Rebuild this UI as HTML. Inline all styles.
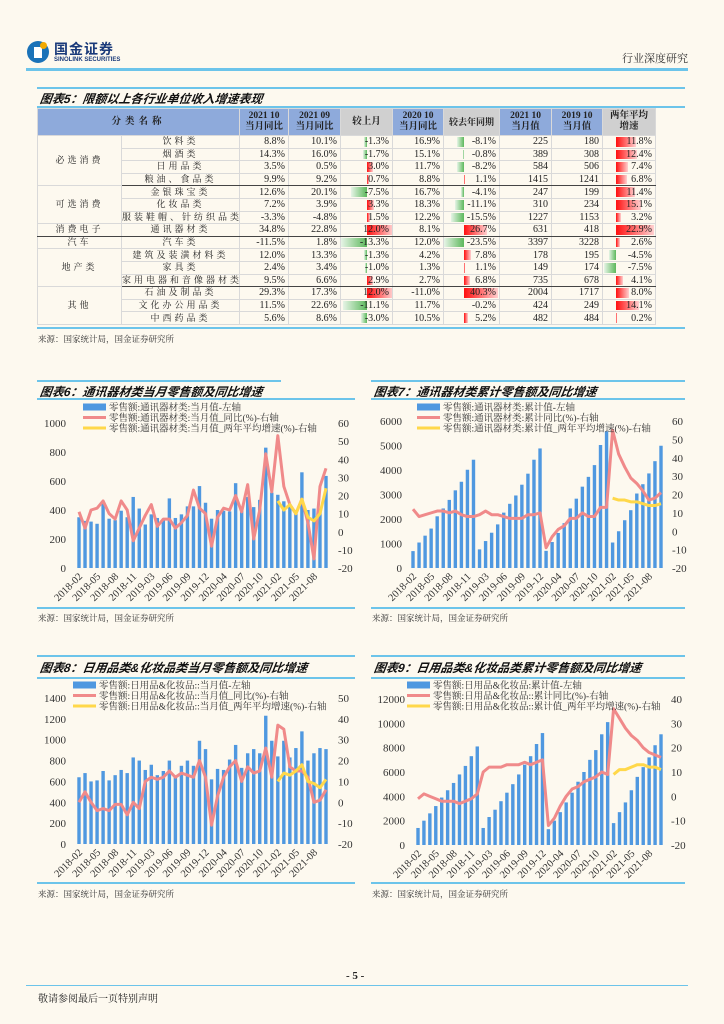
<!DOCTYPE html>
<html><head><meta charset="utf-8">
<style>
body{margin:0;background:#fdf9ef;}
#page{position:relative;width:724px;height:1024px;background:#fdf9ef;overflow:hidden;font-family:"Liberation Serif","Noto Serif CJK SC",serif;color:#222;}
.abs{position:absolute;}
.bl{position:absolute;height:3px;background:#6cc4ea;}
.ttl{position:absolute;font-family:"Liberation Sans","Noto Sans CJK SC",sans-serif;font-weight:bold;font-style:italic;font-size:12px;color:#111;transform:skewX(-8deg);}
.src{position:absolute;font-family:"Liberation Serif","Noto Serif CJK SC",serif;font-size:8.5px;color:#333;}
table{border-collapse:collapse;table-layout:fixed;}
tr{height:12.6px;}
tr.hd{height:27px;}
td,th{padding:0;font-size:10px;line-height:11px;border:1px solid #d9d9d9;position:relative;overflow:hidden;white-space:nowrap;box-sizing:border-box;}
td{height:12.6px;max-height:12.6px;}
th{height:27px;font-size:9.5px;line-height:11px;font-weight:bold;background:#8eaadb;}
th.g{background:#d0d0d0;}
td.n{text-align:right;padding-right:3px;}
td.c{text-align:center;font-size:9px;letter-spacing:3px;}
tr.sep td{border-bottom:1.5px solid #444;}
.bar{position:absolute;top:1px;bottom:1px;}
.txt{position:relative;z-index:2;}
</style></head>
<body>
<div id="page">
  <div class="abs" style="left:27px;top:41px;width:100px;height:26px;">
    <div style="position:absolute;left:0;top:0;width:22px;height:22px;border-radius:50%;background:#1a72b8;"></div>
    <div style="position:absolute;left:7px;top:6px;width:8px;height:11px;background:#fff;"></div>
    <div style="position:absolute;left:13px;top:1px;width:7px;height:7px;border-radius:50%;background:#f2a900;"></div>
    <div style="position:absolute;left:27px;top:-2px;font-family:'Noto Sans CJK SC',sans-serif;font-weight:bold;font-size:14px;color:#1a3a7a;letter-spacing:1px;">国金证券</div>
    <div style="position:absolute;left:27px;top:16px;font-family:'Liberation Sans',sans-serif;font-weight:bold;font-size:6px;color:#1a3a7a;">SINOLINK SECURITIES</div>
  </div>
  <div class="abs" style="left:622px;top:50px;font-size:11px;font-family:'Noto Serif CJK SC',serif;color:#333;">行业深度研究</div>
  <div class="bl" style="left:26px;top:68px;width:662px;"></div>

  <div class="bl" style="left:37px;top:87px;width:648px;height:2px;"></div>
  <div class="ttl" style="left:40px;top:90px;">图表5：限额以上各行业单位收入增速表现</div>
  <div class="bl" style="left:37px;top:106px;width:648px;height:2px;"></div>
  <div class="abs" id="tblwrap" style="left:37px;top:108px;"></div>
  <div class="bl" style="left:37px;top:327px;width:648px;height:2px;"></div>
  <div class="src" style="left:38px;top:333px;">来源：国家统计局，国金证券研究所</div>

  <div class="bl" style="left:37px;top:380px;width:244px;height:2px;"></div>
  <div class="ttl" style="left:40px;top:383px;">图表6：通讯器材类当月零售额及同比增速</div>
  <div class="bl" style="left:37px;top:398px;width:318px;height:2px;"></div>
  <div class="bl" style="left:371px;top:380px;width:314px;height:2px;"></div>
  <div class="ttl" style="left:374px;top:383px;">图表7：通讯器材类累计零售额及同比增速</div>
  <div class="bl" style="left:371px;top:398px;width:314px;height:2px;"></div>
  <div class="bl" style="left:37px;top:607px;width:318px;height:2px;"></div>
  <div class="bl" style="left:371px;top:607px;width:314px;height:2px;"></div>
  <div class="src" style="left:38px;top:612px;">来源：国家统计局，国金证券研究所</div>
  <div class="src" style="left:372px;top:612px;">来源：国家统计局，国金证券研究所</div>

  <div class="bl" style="left:37px;top:655px;width:318px;height:2px;"></div>
  <div class="ttl" style="left:40px;top:659px;">图表8：日用品类&amp;化妆品类当月零售额及同比增速</div>
  <div class="bl" style="left:37px;top:677px;width:318px;height:2px;"></div>
  <div class="bl" style="left:371px;top:655px;width:314px;height:2px;"></div>
  <div class="ttl" style="left:374px;top:659px;">图表9：日用品类&amp;化妆品类累计零售额及同比增速</div>
  <div class="bl" style="left:371px;top:677px;width:314px;height:2px;"></div>
  <div class="bl" style="left:37px;top:882px;width:318px;height:2px;"></div>
  <div class="bl" style="left:371px;top:882px;width:314px;height:2px;"></div>
  <div class="src" style="left:38px;top:888px;">来源：国家统计局，国金证券研究所</div>
  <div class="src" style="left:372px;top:888px;">来源：国家统计局，国金证券研究所</div>

  <div class="abs" style="left:346px;top:970px;font-size:11px;font-weight:bold;">- 5 -</div>
  <div class="abs" style="left:26px;top:985px;width:662px;height:1px;background:#6cc4ea;"></div>
  <div class="abs" style="left:38px;top:990px;font-size:10px;font-family:'Noto Serif CJK SC',serif;">敬请参阅最后一页特别声明</div>

  <svg id="charts" width="724" height="1024" style="position:absolute;left:0;top:0;"></svg>
</div>

<script>
const tGroups=[["必选消费",4],["可选消费",3],["消费电子",1],["汽车",1],["地产类",3],["其他",3]];
const tNames=["饮料类","烟酒类","日用品类","粮油、食品类","金银珠宝类","化妆品类","服装鞋帽、针纺织品类","通讯器材类","汽车类","建筑及装潢材料类","家具类","家用电器和音像器材类","石油及制品类","文化办公用品类","中西药品类"];
const tCur=[8.8,14.3,3.5,9.9,12.6,7.2,-3.3,34.8,-11.5,12.0,2.4,9.5,29.3,11.5,5.6];
const tPrev=[10.1,16.0,0.5,9.2,20.1,3.9,-4.8,22.8,1.8,13.3,3.4,6.6,17.3,22.6,8.6];
const tMom=[-1.3,-1.7,3.0,0.7,-7.5,3.3,1.5,12.0,-13.3,-1.3,-1.0,2.9,12.0,-11.1,-3.0];
const tLast=[16.9,15.1,11.7,8.8,16.7,18.3,12.2,8.1,12.0,4.2,1.3,2.7,-11.0,11.7,10.5];
const tYoyChg=[-8.1,-0.8,-8.2,1.1,-4.1,-11.1,-15.5,26.7,-23.5,7.8,1.1,6.8,40.3,-0.2,5.2];
const tVal21=[225,389,584,1415,247,310,1227,631,3397,178,149,735,2004,424,482];
const tVal19=[180,308,506,1241,199,234,1153,418,3228,195,174,678,1717,249,484];
const tTwo=[11.8,12.4,7.4,6.8,11.4,15.1,3.2,22.9,2.6,-4.5,-7.5,4.1,8.0,14.1,0.2];

const colW=[84,118,49,52,52,51,56,52,51,53];
function fmtP(v){return v.toFixed(1)+'%';}
function barCell(v,axis,scale,cw){
  let h='';
  if(v>=0){h='<div class="bar" style="left:'+axis+'px;width:'+Math.min(v*scale,cw-axis)+'px;background:linear-gradient(to right,#ff1010,#ffd0d0);"></div>';}
  else{const w=Math.min(-v*scale,axis);h='<div class="bar" style="left:'+(axis-w)+'px;width:'+w+'px;background:linear-gradient(to left,#5cb85c,#e6f4e6);"></div>';}
  return h+'<span class="txt">'+fmtP(v)+'</span>';
}
(function(){
  let h='<table style="width:618px;"><colgroup>';
  colW.forEach(w=>h+='<col style="width:'+w+'px">');
  h+='</colgroup><tr class="hd">';
  h+='<th colspan="2" style="letter-spacing:4px;">分类名称</th><th>2021 10<br>当月同比</th><th>2021 09<br>当月同比</th><th class="g">较上月</th><th>2020 10<br>当月同比</th><th class="g" style="font-size:9px;">较去年同期</th><th>2021 10<br>当月值</th><th>2019 10<br>当月值</th><th class="g">两年平均<br>增速</th></tr>';
  let gi=0,left=0;
  for(let i=0;i<tNames.length;i++){
    const sep=(i===3||i===7||i===11);
    h+='<tr'+(sep?' class="sep"':'')+'>';
    if(left===0){const g=tGroups[gi++];left=g[1];h+='<td class="c" rowspan="'+g[1]+'">'+g[0]+'</td>';}
    left--;
    h+='<td class="c">'+tNames[i]+'</td>';
    h+='<td class="n">'+fmtP(tCur[i])+'</td><td class="n">'+fmtP(tPrev[i])+'</td>';
    h+='<td class="n">'+barCell(tMom[i],26,2.15,52)+'</td>';
    h+='<td class="n">'+fmtP(tLast[i])+'</td>';
    h+='<td class="n">'+barCell(tYoyChg[i],20,0.85,56)+'</td>';
    h+='<td class="n">'+tVal21[i]+'</td><td class="n">'+tVal19[i]+'</td>';
    h+='<td class="n">'+barCell(tTwo[i],13,1.66,53)+'</td></tr>';
  }
  h+='</table>';
  document.getElementById('tblwrap').innerHTML=h;
})();

const months=["2018-02","2018-03","2018-04","2018-05","2018-06","2018-07","2018-08","2018-09","2018-10","2018-11","2018-12","2019-02","2019-03","2019-04","2019-05","2019-06","2019-07","2019-08","2019-09","2019-10","2019-11","2019-12","2020-02","2020-03","2020-04","2020-05","2020-06","2020-07","2020-08","2020-09","2020-10","2020-11","2020-12","2021-02","2021-03","2021-04","2021-05","2021-06","2021-07","2021-08","2021-09","2021-10"];
const tickIdx=[0,3,6,9,12,15,18,21,24,27,30,33,36,39];

const c6Bars=[350,325,320,305,450,340,330,395,350,490,410,300,370,345,340,480,345,370,425,425,565,450,340,400,395,390,585,395,490,420,470,830,520,505,460,440,400,660,400,410,400,635];
const c6Yoy=[11,2,12,13,17,10,7,17,12,-5,2,9,15,3,7,7,2,5,9,23,13,10,-8,8,13,12,20,11,26,-4,12,43,22,53,25,15,10,18,5,-15,25,35];
const c6Avg=[17,12,15,10,18,8,6,10,24];

const c7Bars=[690,1040,1320,1610,2110,2430,2780,3170,3520,4010,4420,760,1100,1440,1780,2260,2620,2960,3400,3850,4420,4880,700,1060,1430,1830,2430,2830,3320,3720,4200,5020,5580,1040,1500,1950,2360,3040,3420,3860,4360,4990];
const c7Yoy=[12,8,9,10,11,11,10,11,9,8,8,9,11,9,9,8,7,7,7,9,9,10,-9,-3,1,3,7,7,10,8,8,13,13,55,42,35,29,26,22,17,18,21];
const c7Avg=[18,17,17,16,16,15,14,14,15];

const c8Bars=[640,680,600,610,700,610,660,710,680,830,800,710,760,660,700,800,650,750,800,750,990,910,620,720,710,810,950,730,870,910,870,1230,990,840,990,830,920,1080,800,870,920,910];
const c8Yoy=[0,5,0,-4,-3,-4,-1,-1,-6,0,-3,10,12,11,12,15,12,14,13,12,20,12,-11,3,12,17,20,10,17,14,15,26,12,37,35,17,15,15,12,0,1,6];
const c8Avg=[10,14,13,15,18,10,9,7,11];

const c9Bars=[1400,2000,2600,3200,3900,4500,5100,5800,6500,7300,8100,1400,2300,2900,3600,4300,5000,5800,6600,7300,8300,9200,1300,2000,2700,3500,4300,5200,6000,7000,7800,9100,10100,1800,2700,3500,4500,5600,6400,7200,8200,9100];
const c9Yoy=[-1,1,0,-1,-2,-2,-2,-3,-2,-1,1,10,12,12,12,13,13,13,14,13,14,15,-12,-9,-4,0,3,4,6,7,8,10,9,36,32,28,25,23,20,18,17,16];
const c9Avg=[9,11,11,12,13,13,12,12,11];

const c6Left=[0,200,400,600,800,1000];
const c6Right=[-20,-10,0,10,20,30,40,50,60];
const c7Left=[0,1000,2000,3000,4000,5000,6000];
const c7Right=[-20,-10,0,10,20,30,40,50,60];
const c8Left=[0,200,400,600,800,1000,1200,1400];
const c8Right=[-20,-10,0,10,20,30,40,50];
const c9Left=[0,2000,4000,6000,8000,10000,12000];
const c9Right=[-20,-10,0,10,20,30,40];

const c6Legend=["零售额:通讯器材类:当月值-左轴","零售额:通讯器材类:当月值_同比(%)-右轴","零售额:通讯器材类:当月值_两年平均增速(%)-右轴"];
const c7Legend=["零售额:通讯器材类:累计值-左轴","零售额:通讯器材类:累计同比(%)-右轴","零售额:通讯器材类:累计值_两年平均增速(%)-右轴"];
const c8Legend=["零售额:日用品&化妆品::当月值-左轴","零售额:日用品&化妆品::当月值_同比(%)-右轴","零售额:日用品&化妆品::当月值_两年平均增速(%)-右轴"];
const c9Legend=["零售额:日用品&化妆品:累计值-左轴","零售额:日用品&化妆品::累计同比(%)-右轴","零售额:日用品&化妆品::累计值_两年平均增速(%)-右轴"];

const NS='http://www.w3.org/2000/svg';
const root=document.getElementById('charts');
function el(tag,parent){const e=document.createElementNS(NS,tag);parent.appendChild(e);return e;}

function drawChart(id,o,bars,yoy,avg,leftT,rightT,legend){
  const g=el('g',root);
  
  
  const lmax=leftT[leftT.length-1], rmin=rightT[0], rmax=rightT[rightT.length-1];
  const n=bars.length;
  const X=i=>o.x0+i*(o.x1-o.x0)/(n-1);
  const YL=v=>o.yb-v/lmax*(o.yb-o.yt);
  const YR=v=>o.yb-(v-rmin)/(rmax-rmin)*(o.yb-o.yt);
  bars.forEach((v,i)=>{
    const r=el('rect',g);
    
    
    r.setAttribute('x',X(i)-1.7);r.setAttribute('width',3.4);
    r.setAttribute('y',YL(v));r.setAttribute('height',o.yb-YL(v));
    r.setAttribute('fill','#4f98e0');
  });
  const p=el('polyline',g);
  
  
  p.setAttribute('points',yoy.map((v,i)=>X(i)+','+YR(v)).join(' '));
  p.setAttribute('fill','none');p.setAttribute('stroke','#f08a8a');p.setAttribute('stroke-width','3');p.setAttribute('stroke-linejoin','round');
  const st=n-avg.length;
  const a=el('polyline',g);
  
  
  a.setAttribute('points',avg.map((v,i)=>X(st+i)+','+YR(v)).join(' '));
  a.setAttribute('fill','none');a.setAttribute('stroke','#ffd84a');a.setAttribute('stroke-width','3');a.setAttribute('stroke-linejoin','round');
  leftT.forEach(v=>{
    const t=el('text',g);
    
    
    t.setAttribute('x',o.lx);t.setAttribute('y',YL(v)+4);t.setAttribute('text-anchor','end');
    t.setAttribute('font-size','11');t.setAttribute('font-family','Liberation Serif, serif');t.setAttribute('fill','#333');
    t.textContent=v;
  });
  rightT.forEach(v=>{
    const t=el('text',g);
    
    
    t.setAttribute('x',o.rx);t.setAttribute('y',YR(v)+4);
    t.setAttribute('font-size','11');t.setAttribute('font-family','Liberation Serif, serif');t.setAttribute('fill','#333');
    t.textContent=v;
  });
  tickIdx.forEach(i=>{
    const t=el('text',g);
    
    
    const tx=X(i)+4, ty=o.yb+9;
    t.setAttribute('x',tx);t.setAttribute('y',ty);t.setAttribute('text-anchor','end');
    t.setAttribute('transform','rotate(-45 '+tx+' '+ty+')');
    t.setAttribute('font-size','10.5');t.setAttribute('font-family','Liberation Serif, serif');t.setAttribute('fill','#333');
    t.textContent=months[i];
  });
  const cols=['#4f98e0','#f08a8a','#ffd84a'];
  const hs=[7,3,3];
  legend.forEach((s,k)=>{
    const y=o.ly+k*10.5;
    const r=el('rect',g);
    
    
    r.setAttribute('x',o.lgx);r.setAttribute('y',y-hs[k]/2);r.setAttribute('width',23);r.setAttribute('height',hs[k]);r.setAttribute('fill',cols[k]);
    const t=el('text',g);
    
    
    t.setAttribute('x',o.lgx+26);t.setAttribute('y',y+3.5);
    t.setAttribute('font-size','9.5');t.setAttribute('font-family','Liberation Serif, Noto Serif CJK SC, serif');t.setAttribute('fill','#333');
    t.textContent=s;
  });
}
drawChart('chart6',{x0:79,x1:326,yb:568,yt:423,lx:66,rx:338,lgx:83,ly:407},c6Bars,c6Yoy,c6Avg,c6Left,c6Right,c6Legend);
drawChart('chart7',{x0:413,x1:661,yb:568,yt:421,lx:402,rx:672,lgx:417,ly:407},c7Bars,c7Yoy,c7Avg,c7Left,c7Right,c7Legend);
drawChart('chart8',{x0:79,x1:326,yb:844,yt:698,lx:66,rx:338,lgx:73,ly:685},c8Bars,c8Yoy,c8Avg,c8Left,c8Right,c8Legend);
drawChart('chart9',{x0:418,x1:661,yb:845,yt:699,lx:405,rx:671,lgx:407,ly:685},c9Bars,c9Yoy,c9Avg,c9Left,c9Right,c9Legend);
</script>
</body></html>
